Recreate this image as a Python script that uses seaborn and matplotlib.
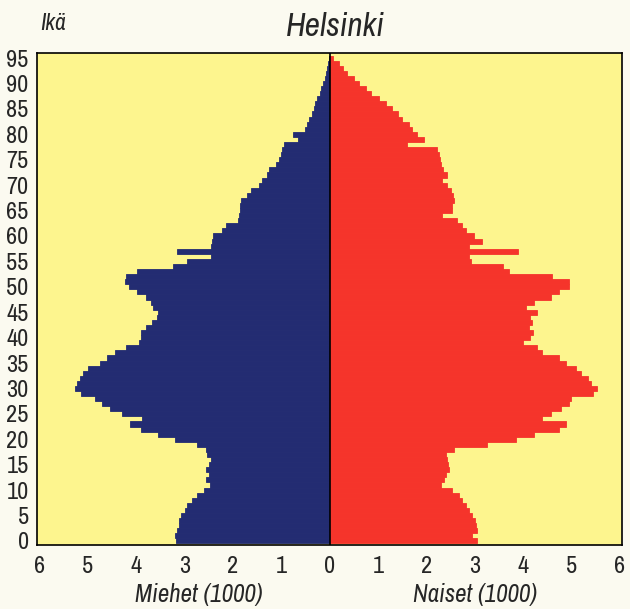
import numpy as np
import pandas as pd
import matplotlib
matplotlib.use("Agg")
import matplotlib.pyplot as plt
from matplotlib import font_manager as fm
import seaborn as sns

ages = list(range(0, 96))
men = [3.18, 3.20, 3.15, 3.12, 3.12, 3.08, 2.98, 2.95, 2.85, 2.75,
       2.60, 2.48, 2.56, 2.50, 2.56, 2.50, 2.46, 2.53, 2.55, 2.74,
       3.20, 3.55, 3.90, 4.12, 3.88, 4.30, 4.55, 4.70, 4.85, 5.15,
       5.26, 5.22, 5.16, 5.10, 5.00, 4.75, 4.60, 4.43, 4.20, 3.95,
       3.90, 3.90, 3.80, 3.67, 3.57, 3.55, 3.65, 3.70, 3.80, 3.98,
       4.15, 4.22, 4.20, 3.98, 3.23, 2.95, 2.45, 3.15, 2.45, 2.43,
       2.40, 2.22, 2.15, 1.90, 1.88, 1.86, 1.86, 1.84, 1.70, 1.63,
       1.45, 1.39, 1.30, 1.26, 1.10, 1.05, 1.00, 0.98, 0.95, 0.66,
       0.75, 0.50, 0.46, 0.42, 0.37, 0.33, 0.30, 0.25, 0.20, 0.17,
       0.13, 0.10, 0.08, 0.05, 0.03, 0.01]
women = [3.05, 2.95, 3.06, 3.02, 3.00, 2.95, 2.88, 2.82, 2.75, 2.68,
         2.54, 2.30, 2.37, 2.40, 2.47, 2.45, 2.43, 2.40, 2.57, 3.26,
         3.85, 4.23, 4.75, 4.89, 4.40, 4.58, 4.78, 4.95, 4.99, 5.44,
         5.54, 5.40, 5.35, 5.20, 5.09, 4.90, 4.75, 4.40, 4.30, 4.00,
         4.15, 4.20, 4.12, 4.18, 4.15, 4.30, 4.06, 4.23, 4.58, 4.74,
         4.95, 4.95, 4.61, 3.71, 3.58, 2.92, 2.88, 3.89, 2.88, 3.16,
         2.98, 2.82, 2.75, 2.64, 2.33, 2.54, 2.54, 2.57, 2.55, 2.51,
         2.44, 2.33, 2.44, 2.35, 2.30, 2.28, 2.26, 2.23, 1.61, 1.95,
         1.82, 1.70, 1.64, 1.50, 1.42, 1.30, 1.16, 1.02, 0.85, 0.75,
         0.61, 0.50, 0.37, 0.28, 0.19, 0.08]
xticks = [-6, -5, -4, -3, -2, -1, 0, 1, 2, 3, 4, 5, 6]
yticks = list(range(0, 96, 5))

BLUE = "#232c72"
RED = "#f5342b"
YELLOW = "#fdf58e"
PAGE = "#fbfaf0"

sns.set_style("white")

# look for a condensed sans family if one is installed
cond = None
for f in fm.fontManager.ttflist:
    nm = f.name
    if ("Narrow" in nm or "Condensed" in nm) and "Mono" not in nm and "Serif" not in nm:
        cond = nm
        break
stretch = "normal"
if cond is None:
    for f in fm.fontManager.ttflist:
        if f.name == "DejaVu Sans" and str(f.stretch) in ("condensed", "semi-condensed"):
            cond = "DejaVu Sans"
            stretch = "condensed"
            break
FONT = ([cond] if cond else []) + ["Liberation Sans", "DejaVu Sans"]
plt.rcParams["font.family"] = FONT
plt.rcParams["font.stretch"] = stretch

df = pd.DataFrame({"age": ages,
                   "men": [-v for v in men],
                   "women": women})

fig = plt.figure(figsize=(6.30, 6.09), dpi=100, facecolor=PAGE)
ax = fig.add_axes([37 / 630, 1 - 545 / 609, (622 - 37) / 630, (545 - 53) / 609])
ax.set_facecolor(YELLOW)

sns.barplot(data=df, x="men", y="age", orient="h", native_scale=True,
            width=1.0, color=BLUE, saturation=1, linewidth=0.6,
            edgecolor=BLUE, ax=ax)
sns.barplot(data=df, x="women", y="age", orient="h", native_scale=True,
            width=1.0, color=RED, saturation=1, linewidth=0.6,
            edgecolor=RED, ax=ax)

ax.axvline(0, color="black", lw=1.2, zorder=5)
ax.set_xlim(-6.05, 6.05)
ax.set_ylim(-0.8, 96.0)

ax.set_xticks(xticks)
ax.set_xticklabels([str(abs(t)) for t in xticks], fontsize=17.5)
ax.set_yticks(yticks)
ax.set_yticklabels([str(t) for t in yticks], fontsize=17.5)
ax.tick_params(axis="x", length=0, pad=8)
ax.tick_params(axis="y", length=0, pad=6)
ax.set_xlabel("")
ax.set_ylabel("")
for s in ax.spines.values():
    s.set_visible(True)
    s.set_color("black")
    s.set_linewidth(1.2)

fig.text(335 / 630, 1 - 27 / 609, "Helsinki", ha="center", va="center",
         fontsize=24, style="italic", family=FONT)
fig.text(40 / 630, 1 - 24 / 609, "Ikä", ha="left", va="center",
         fontsize=17, style="italic", family=FONT)
fig.text(199 / 630, 1 - 594 / 609, "Miehet (1000)", ha="center", va="center",
         fontsize=18, style="italic", family=FONT)
fig.text(475 / 630, 1 - 594 / 609, "Naiset (1000)", ha="center", va="center",
         fontsize=18, style="italic", family=FONT)

fig.savefig("out.png", dpi=100, facecolor=PAGE)
